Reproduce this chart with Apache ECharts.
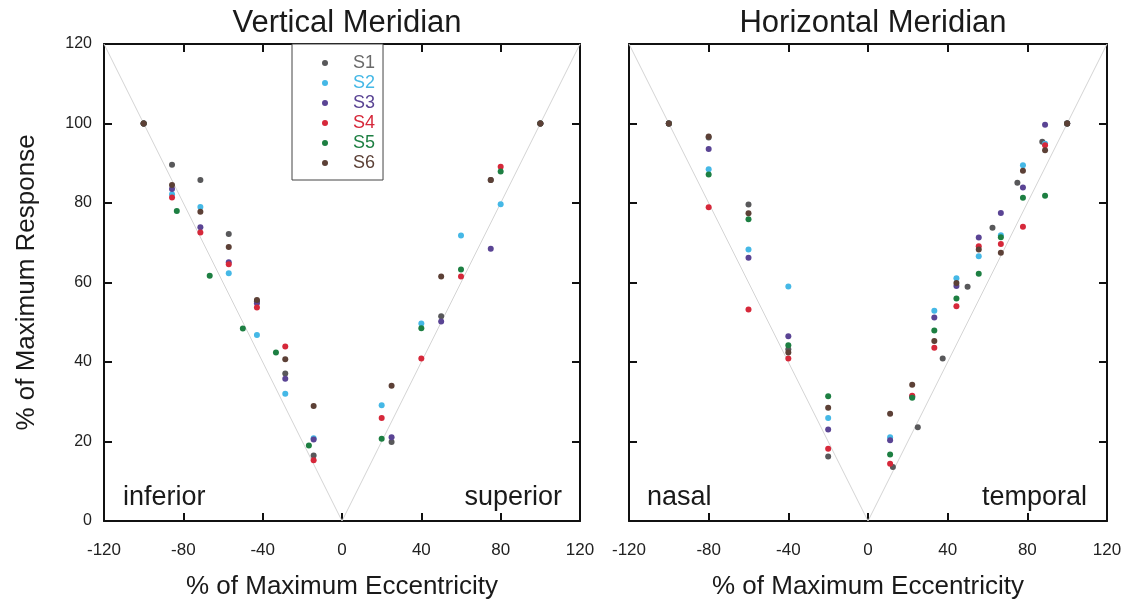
<!DOCTYPE html>
<html>
<head>
<meta charset="utf-8">
<script src="https://cdn.jsdelivr.net/npm/echarts@6/dist/echarts.min.js"></script>
<style>html,body{margin:0;padding:0;background:#fff;}#c{width:1128px;height:605px;}</style>
</head>
<body>
<div id="c"></div>
<script>
var seriesNames = ['S1', 'S2', 'S3', 'S4', 'S5', 'S6'];
var panelTitles = ['Vertical Meridian', 'Horizontal Meridian'];
var xTicks = [-120, -80, -40, 0, 40, 80, 120];
var yTicks = [0, 20, 40, 60, 80, 100, 120];
var refLine = [[-120, 120], [0, 0], [120, 120]];

// Vertical meridian (left panel)
var vm_S1 = [[-100,100],[-85.7,89.6],[-71.4,85.8],[-57.1,72.2],[-42.9,55.3],[-28.6,37.1],[-14.3,16.5],[25,19.9],[50,51.5],[75,85.8],[100,100]];
var vm_S2 = [[-100,100],[-85.7,82.2],[-71.4,79.0],[-57.1,62.3],[-42.9,46.8],[-28.6,32.0],[-14.3,20.8],[20,29.1],[40,49.7],[60,71.8],[80,79.7],[100,100]];
var vm_S3 = [[-100,100],[-85.7,83.5],[-71.4,73.9],[-57.1,65.1],[-42.9,54.8],[-28.6,35.8],[-14.3,20.5],[25,21.1],[50,50.2],[75,68.5],[100,100]];
var vm_S4 = [[-100,100],[-85.7,81.4],[-71.4,72.6],[-57.1,64.6],[-42.9,53.7],[-28.6,43.9],[-14.3,15.3],[20,25.9],[40,40.9],[60,61.5],[80,89.1],[100,100]];
var vm_S5 = [[-100,100],[-83.3,78.0],[-66.7,61.7],[-50,48.4],[-33.3,42.4],[-16.7,19.0],[20,20.7],[40,48.5],[60,63.3],[80,87.9],[100,100]];
var vm_S6 = [[-100,100],[-85.7,84.5],[-71.4,77.8],[-57.1,68.9],[-42.9,55.6],[-28.6,40.7],[-14.3,28.9],[25,34.0],[50,61.5],[75,85.8],[100,100]];

// Horizontal meridian (right panel)
var hm_S1 = [[-100,100],[-80,96.5],[-60,79.6],[-40,43.2],[-20,16.2],[12.5,13.6],[25,23.6],[37.5,40.9],[50,58.9],[62.5,73.8],[75,85.1],[87.5,95.4],[100,100]];
var hm_S2 = [[-100,100],[-80,88.5],[-60,68.3],[-40,59.0],[-20,25.9],[11.1,21.1],[22.2,31.2],[33.3,52.9],[44.4,61.1],[55.6,66.6],[66.7,71.9],[77.8,89.5],[88.9,94.9],[100,100]];
var hm_S3 = [[-100,100],[-80,93.6],[-60,66.2],[-40,46.5],[-20,23.0],[11.1,20.3],[22.2,31.3],[33.3,51.2],[44.4,59.1],[55.6,71.3],[66.7,77.5],[77.8,83.9],[88.9,99.7],[100,100]];
var hm_S4 = [[-100,100],[-80,78.9],[-60,53.2],[-40,40.9],[-20,18.2],[11.1,14.4],[22.2,31.5],[33.3,43.6],[44.4,54.0],[55.6,69.1],[66.7,69.7],[77.8,74.0],[88.9,94.5],[100,100]];
var hm_S5 = [[-100,100],[-80,87.2],[-60,75.9],[-40,44.2],[-20,31.4],[11.1,16.7],[22.2,31.0],[33.3,47.9],[44.4,56.0],[55.6,62.2],[66.7,71.4],[77.8,81.3],[88.9,81.8],[100,100]];
var hm_S6 = [[-100,100],[-80,96.7],[-60,77.4],[-40,42.4],[-20,28.5],[11.1,27.0],[22.2,34.3],[33.3,45.3],[44.4,59.9],[55.6,68.3],[66.7,67.5],[77.8,88.1],[88.9,93.3],[100,100]];

var colors = ['#58585a', '#45b8e6', '#5a4494', '#d6283a', '#1d7f42', '#5c4036'];
var textColors = ['#6a6a6a', '#45b8e6', '#5a4494', '#d6283a', '#1d7f42', '#5c4036'];

var vmData = [vm_S1, vm_S2, vm_S3, vm_S4, vm_S5, vm_S6];
var hmData = [hm_S1, hm_S2, hm_S3, hm_S4, hm_S5, hm_S6];

var FONT = "'Liberation Sans', Arial, Helvetica, sans-serif";
var chart = echarts.init(document.getElementById('c'), null, {renderer: 'canvas'});

function xAxisFor(grid, pos, showLabel, name) {
  return {
    type: 'value', gridIndex: grid, position: pos, min: -120, max: 120, interval: 40,
    axisLine: {show: true, onZero: false, lineStyle: {color: '#111', width: 2}},
    axisTick: {show: true, inside: true, length: 8, lineStyle: {color: '#111', width: 2}},
    axisLabel: {show: showLabel, margin: 21, color: '#222', fontSize: 17, fontFamily: FONT,
      formatter: function (v) { return xTicks.indexOf(v) >= 0 ? String(v) : ''; }},
    splitLine: {show: false},
    name: name || '', nameLocation: 'middle', nameGap: 53,
    nameTextStyle: {fontSize: 26, color: '#1a1a1a', fontFamily: FONT}
  };
}
function yAxisFor(grid, pos, showLabel, name) {
  return {
    type: 'value', gridIndex: grid, position: pos, min: 0, max: 120, interval: 20,
    axisLine: {show: true, onZero: false, lineStyle: {color: '#111', width: 2}},
    axisTick: {show: true, inside: true, length: 8, lineStyle: {color: '#111', width: 2}},
    axisLabel: {show: showLabel, margin: 12, color: '#222', fontSize: 16, fontFamily: FONT,
      formatter: function (v) { return yTicks.indexOf(v) >= 0 ? String(v) : ''; }},
    splitLine: {show: false},
    name: name || '', nameLocation: 'middle', nameGap: 64,
    nameTextStyle: {fontSize: 26, color: '#1a1a1a', fontFamily: FONT}
  };
}

var series = [];
[vmData, hmData].forEach(function (panel, p) {
  var xi = p * 2, yi = p * 2;
  series.push({
    type: 'line', xAxisIndex: xi, yAxisIndex: yi, data: refLine, symbol: 'none',
    lineStyle: {color: '#d4d4d4', width: 1}, silent: true, z: 1, animation: false
  });
  panel.forEach(function (d, i) {
    series.push({
      name: seriesNames[i], type: 'scatter', xAxisIndex: xi, yAxisIndex: yi,
      data: d, symbol: 'circle', symbolSize: 6,
      itemStyle: {color: colors[i], opacity: 1}, z: 2 + i, animation: false
    });
  });
});

var option = {
  backgroundColor: '#fff',
  animation: false,
  title: [
    {text: panelTitles[0], left: 342, top: 3, textAlign: 'center',
     textStyle: {fontSize: 31, fontWeight: 'normal', color: '#1a1a1a', fontFamily: FONT}},
    {text: panelTitles[1], left: 868, top: 3, textAlign: 'center',
     textStyle: {fontSize: 31, fontWeight: 'normal', color: '#1a1a1a', fontFamily: FONT}}
  ],
  legend: {
    orient: 'vertical', left: 292, top: 44,
    padding: [9, 8, 7, 30], itemGap: 0, itemWidth: 6, itemHeight: 6,
    borderColor: '#444', borderWidth: 1, backgroundColor: '#fff',
    icon: 'circle',
    data: seriesNames.map(function (n, i) {
      return {name: n, textStyle: {color: textColors[i]}};
    }),
    textStyle: {fontSize: 18, lineHeight: 20, fontFamily: FONT, padding: [0, 0, 0, 20]}
  },
  grid: [
    {left: 104, right: 548, top: 44, bottom: 83},
    {left: 629, right: 21, top: 44, bottom: 83}
  ],
  xAxis: [
    xAxisFor(0, 'bottom', true, '% of Maximum Eccentricity'),
    xAxisFor(0, 'top', false),
    xAxisFor(1, 'bottom', true, '% of Maximum Eccentricity'),
    xAxisFor(1, 'top', false)
  ],
  yAxis: [
    yAxisFor(0, 'left', true, '% of Maximum Response'),
    yAxisFor(0, 'right', false),
    yAxisFor(1, 'left', false),
    yAxisFor(1, 'right', false)
  ],
  graphic: [
    {type: 'text', left: 123, top: 484, style: {text: 'inferior', font: '27px ' + FONT, fill: '#1a1a1a'}},
    {type: 'text', right: 1128 - 562, top: 484, style: {text: 'superior', font: '27px ' + FONT, fill: '#1a1a1a'}},
    {type: 'text', left: 647, top: 484, style: {text: 'nasal', font: '27px ' + FONT, fill: '#1a1a1a'}},
    {type: 'text', right: 1128 - 1087, top: 484, style: {text: 'temporal', font: '27px ' + FONT, fill: '#1a1a1a'}}
  ],
  series: series
};
chart.setOption(option);
</script>
</body>
</html>
